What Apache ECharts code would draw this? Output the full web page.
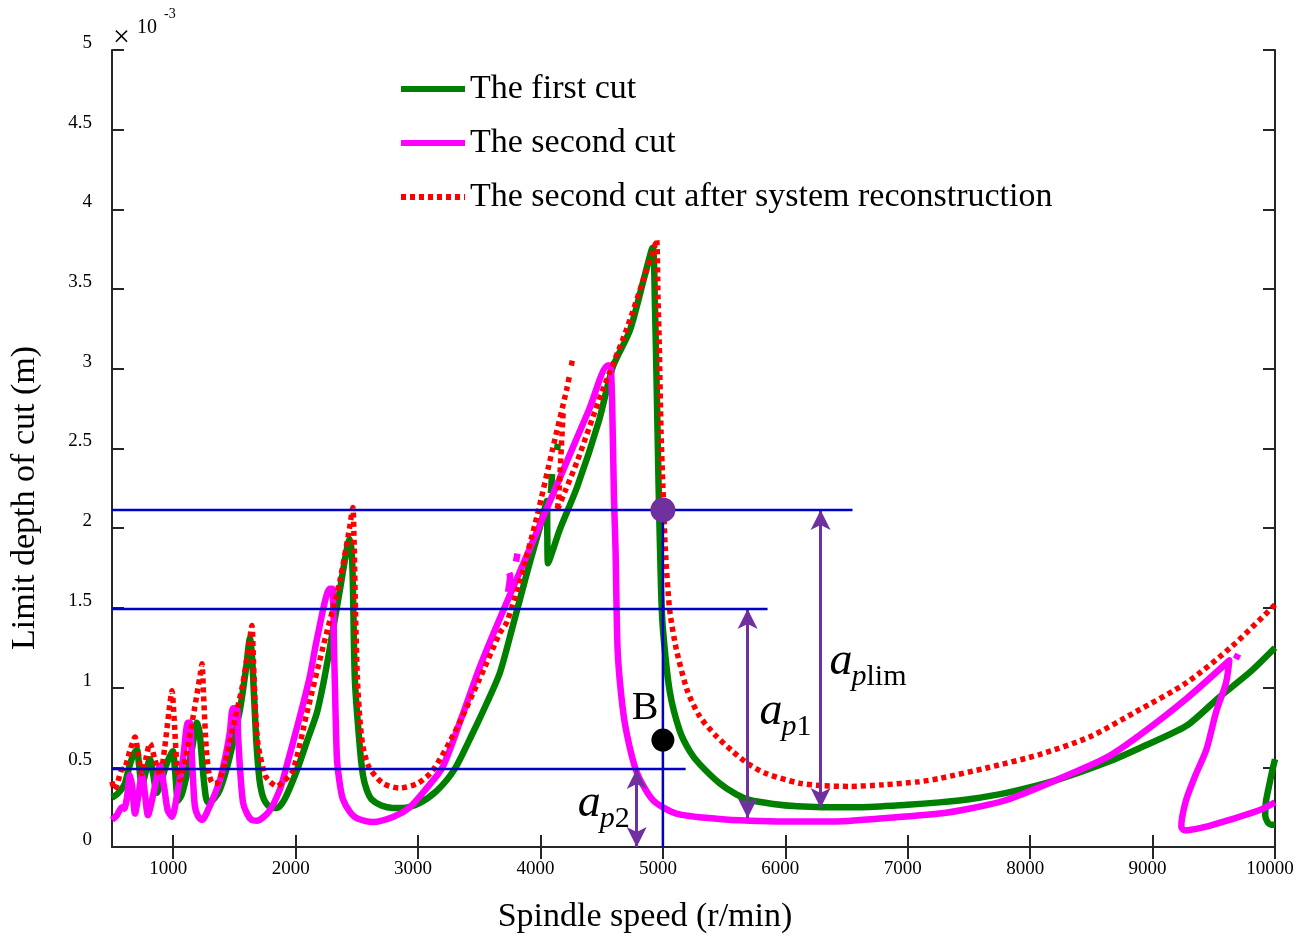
<!DOCTYPE html>
<html>
<head>
<meta charset="utf-8">
<title>Limit depth of cut vs spindle speed</title>
<script src="https://cdn.jsdelivr.net/npm/echarts@6.0.0/dist/echarts.min.js"></script>
<style>
  html, body { margin: 0; padding: 0; background: #fff; }
  #chart { width: 1305px; height: 939px; }
</style>
</head>
<body>
<div id="chart"></div>
<script>
// spindle speed (r/min), limit depth of cut (x10^-3 m); null rows break the curve
const firstCut = [
  [500,0.31],[540,0.33],[575,0.36],[606,0.40],[640,0.50],[675,0.58],[704,0.61],[720,0.52],[745,0.38],
  [775,0.47],[810,0.55],[835,0.46],[867,0.34],[905,0.42],[945,0.52],[980,0.58],[998,0.60],[1015,0.48],
  [1040,0.29],[1070,0.33],[1110,0.45],[1155,0.62],[1194,0.78],[1215,0.72],[1240,0.50],[1265,0.32],
  [1284,0.28],[1330,0.30],[1382,0.36],[1460,0.56],[1545,0.86],[1595,1.12],[1627,1.31],[1645,1.18],
  [1660,0.95],[1680,0.65],[1705,0.42],[1740,0.30],[1790,0.25],[1847,0.245],[1910,0.30],[2010,0.48],
  [2100,0.68],[2173,0.84],[2230,1.04],[2280,1.25],[2361,1.61],[2443,1.93],[2458,1.85],[2467,1.67],
  [2484,1.05],[2524,0.63],[2550,0.45],[2580,0.36],[2620,0.30],[2700,0.26],[2795,0.245],[2875,0.245],
  [3000,0.27],[3150,0.35],[3300,0.49],[3450,0.72],[3560,0.90],[3667,1.09],[3765,1.36],[3900,1.75],
  [4000,2.02],[4052,2.17],[4056,1.95],[4062,1.78],[4100,1.86],[4157,1.99],[4300,2.26],[4480,2.68],
  [4590,3.01],[4730,3.24],[4850,3.58],[4916,3.76],[4935,3.40],[4949,2.90],[4965,2.26],[4985,1.62],
  [5000,1.37],[5055,0.98],[5137,0.73],[5220,0.60],[5300,0.52],[5463,0.40],[5600,0.33],[5708,0.295],
  [5900,0.27],[6100,0.255],[6300,0.25],[6600,0.25],[6998,0.265],[7259,0.28],[7500,0.30],[7806,0.34],
  [8214,0.42],[8622,0.53],[8892,0.62],[9276,0.76],[9545,0.94],[9800,1.10],[10000,1.25],
  [10000,null],
  [10000,0.55],[9975,0.47],[9945,0.36],[9925,0.28],[9920,0.20],[9940,0.155],[9970,0.14],[10000,0.14],
  [10000,null],
  [4085,2.22],[4095,2.34],[4095,null],[4135,2.49],[4142,2.53]
];

const secondCut = [
  [500,0.17],[540,0.20],[582,0.25],[600,0.24],[620,0.30],[647,0.45],[665,0.38],[688,0.21],[715,0.32],
  [745,0.45],[765,0.36],[794,0.20],[840,0.34],[892,0.51],[925,0.38],[955,0.23],[990,0.19],[1030,0.32],
  [1080,0.55],[1120,0.78],[1137,0.78],[1150,0.60],[1165,0.38],[1178,0.25],[1205,0.19],[1235,0.17],
  [1300,0.26],[1382,0.42],[1430,0.58],[1463,0.72],[1488,0.87],[1520,0.87],[1530,0.70],[1545,0.50],
  [1570,0.28],[1602,0.21],[1640,0.17],[1684,0.165],[1780,0.22],[1871,0.36],[1920,0.49],[2035,0.82],
  [2116,1.07],[2173,1.30],[2280,1.62],[2300,1.62],[2315,1.20],[2337,0.56],[2360,0.40],[2386,0.30],
  [2443,0.22],[2500,0.18],[2630,0.157],[2800,0.19],[2933,0.25],[3050,0.35],[3200,0.50],[3350,0.80],
  [3500,1.12],[3627,1.36],[3800,1.67],[4000,2.03],[4200,2.39],[4400,2.75],[4549,3.02],[4570,3.02],
  [4585,2.80],[4600,2.20],[4613,1.87],[4630,1.24],[4660,0.95],[4700,0.73],[4786,0.47],[4918,0.295],
  [5110,0.21],[5463,0.176],[5708,0.165],[6000,0.16],[6386,0.16],[6800,0.18],[7259,0.21],[7500,0.24],
  [7806,0.295],[8214,0.42],[8622,0.56],[8892,0.70],[9276,0.93],[9627,1.17],[9600,1.03],[9520,0.85],
  [9439,0.61],[9350,0.45],[9276,0.30],[9240,0.18],[9235,0.125],[9260,0.105],[9300,0.107],[9450,0.13],
  [9627,0.17],[9871,0.23],[10000,0.28],
  [10000,null],
  [9680,1.18],[9700,1.21],[9700,null],
  [3735,1.60],[3752,1.70],[3745,1.72],[3745,null],
  [3800,1.79],[3812,1.84]
];

const reconCut = [
  [500,0.41],[520,0.36],[545,0.40],[575,0.48],[606,0.50],[645,0.60],[688,0.69],[715,0.58],[745,0.46],
  [775,0.55],[810,0.65],[850,0.55],[892,0.45],[930,0.62],[965,0.85],[990,0.98],[1008,0.80],[1030,0.52],
  [1055,0.42],[1100,0.55],[1170,0.85],[1220,1.08],[1235,1.15],[1248,0.95],[1270,0.62],[1295,0.45],
  [1324,0.40],[1357,0.40],[1420,0.52],[1488,0.75],[1570,1.03],[1620,1.28],[1643,1.39],[1655,1.18],
  [1672,0.85],[1690,0.66],[1708,0.58],[1750,0.45],[1790,0.41],[1847,0.38],[1900,0.41],[1978,0.48],
  [2092,0.84],[2222,1.25],[2361,1.67],[2440,2.00],[2467,2.13],[2478,1.90],[2490,1.45],[2505,1.05],
  [2525,0.80],[2550,0.63],[2600,0.50],[2712,0.40],[2851,0.37],[3000,0.40],[3120,0.48],[3300,0.72],
  [3500,1.05],[3667,1.34],[3725,1.41],[3850,1.72],[3970,2.07],[4100,2.50],[4214,2.87],[4240,2.97],
  [4240,null],
  [4252,3.02],[4262,3.06],
  [4262,null],
  [4185,2.72],[4170,2.50],[4160,2.35],[4148,2.18],[4135,2.11],[4200,2.23],[4300,2.42],[4500,2.85],
  [4700,3.24],[4850,3.58],[4930,3.76],[4949,3.81],[4960,3.45],[4970,3.16],[4985,2.60],[5000,2.26],
  [5020,1.87],[5055,1.49],[5110,1.24],[5200,0.98],[5300,0.82],[5430,0.70],[5570,0.60],[5700,0.52],
  [5847,0.46],[6116,0.40],[6300,0.385],[6524,0.38],[6800,0.39],[7096,0.41],[7259,0.43],[7667,0.50],
  [8076,0.58],[8484,0.69],[8867,0.85],[9276,1.03],[9650,1.26],[10000,1.52]
];

const seriesNames = ['The first cut', 'The second cut', 'The second cut after system reconstruction'];
const xTicks = [1000, 2000, 3000, 4000, 5000, 6000, 7000, 8000, 9000, 10000];

// reference depths drawn as blue lines, and the speed where they end
const refDepth = [2.114, 1.493, 0.489];
const refEndSpeed = [6549, 5855, 5186];
const chatterSpeed = 5000;

// double arrows: speed, lower depth, upper depth
const arrowSpeed = [4786, 5692, 6288];
const arrowLow = [0, 0.182, 0.245];
const arrowHigh = [0.489, 1.493, 2.114];

const limitPoint = [5000, 2.114];
const pointB = [5000, 0.671];

const FONT = '"Liberation Serif", "Times New Roman", serif';

const chart = echarts.init(document.getElementById('chart'));

const refSeries = refDepth.map((d, i) => ({
  type: 'line',
  data: [[500, d], [refEndSpeed[i], d]],
  symbol: 'none',
  lineStyle: { color: '#0000c8', width: 2.5 },
  z: 5,
  silent: true
}));
refSeries.push({
  type: 'line',
  data: [[chatterSpeed, 0], [chatterSpeed, refDepth[0]]],
  symbol: 'none',
  lineStyle: { color: '#0000c8', width: 2.5 },
  z: 5,
  silent: true
});

const option = {
  animation: false,
  backgroundColor: '#fff',
  grid: { left: 112, right: 30, top: 50, bottom: 92 },
  legend: {
    data: seriesNames,
    orient: 'vertical',
    left: 393,
    top: 67,
    itemWidth: 64,
    itemHeight: 14,
    itemGap: 20,
    selectedMode: false,
    itemStyle: { opacity: 0 },
    lineStyle: { width: 6 },
    textStyle: { fontFamily: FONT, fontSize: 34, color: '#000' }
  },
  xAxis: [
    {
      type: 'value', min: 500, max: 10000,
      axisLine: { lineStyle: { color: '#262626', width: 2 } },
      axisTick: { inside: true, length: 12, customValues: xTicks, lineStyle: { color: '#262626', width: 2 } },
      axisLabel: {
        customValues: xTicks, formatter: v => String(v),
        fontFamily: FONT, fontSize: 19, color: '#000', margin: 13, padding: [0, 10, 0, 0]
      },
      splitLine: { show: false }
    },
    {
      type: 'value', min: 500, max: 10000, position: 'top',
      axisLine: { lineStyle: { color: '#262626', width: 2 } },
      axisTick: { inside: true, length: 12, customValues: xTicks, lineStyle: { color: '#262626', width: 2 } },
      axisLabel: { show: false },
      splitLine: { show: false }
    }
  ],
  yAxis: [
    {
      type: 'value', min: 0, max: 5, interval: 0.5,
      axisLine: { show: true, lineStyle: { color: '#262626', width: 2 } },
      axisTick: { show: true, inside: true, length: 12, lineStyle: { color: '#262626', width: 2 } },
      axisLabel: {
        fontFamily: FONT, fontSize: 19, color: '#000', margin: 20,
        verticalAlign: 'bottom', lineHeight: 14
      },
      splitLine: { show: false }
    },
    {
      type: 'value', min: 0, max: 5, interval: 0.5, position: 'right',
      axisLine: { show: true, lineStyle: { color: '#262626', width: 2 } },
      axisTick: { show: true, inside: true, length: 12, lineStyle: { color: '#262626', width: 2 } },
      axisLabel: { show: false },
      splitLine: { show: false }
    }
  ],
  series: [
    {
      name: seriesNames[0], type: 'line', data: firstCut, symbol: 'none', connectNulls: false, smooth: 0.25,
      lineStyle: { color: '#008000', width: 6.5, join: 'round' }, itemStyle: { color: '#008000' }, z: 2
    },
    {
      name: seriesNames[1], type: 'line', data: secondCut, symbol: 'none', connectNulls: false, smooth: 0.25,
      lineStyle: { color: '#ff00ff', width: 6.5, join: 'round' }, itemStyle: { color: '#ff00ff' }, z: 3
    },
    {
      name: seriesNames[2], type: 'line', data: reconCut, symbol: 'none', connectNulls: false, smooth: 0.25,
      lineStyle: { color: '#ff0000', width: 5.5, type: [5, 4] }, itemStyle: { color: '#ff0000' }, z: 4
    },
    ...refSeries,
    {
      type: 'line', data: [], z: 6, silent: true,
      markLine: {
        silent: true,
        symbol: ['arrow', 'arrow'],
        symbolSize: [15, 20],
        label: { show: false },
        lineStyle: { color: '#7030a0', width: 3, type: 'solid' },
        data: arrowSpeed.map((s, i) => [{ coord: [s, arrowLow[i]] }, { coord: [s, arrowHigh[i]] }])
      }
    },
    {
      type: 'scatter', data: [limitPoint], symbolSize: 25, z: 7, silent: true,
      itemStyle: { color: '#7030a0', opacity: 1 }
    },
    {
      type: 'scatter', data: [pointB], symbolSize: 23, z: 7, silent: true,
      itemStyle: { color: '#000', opacity: 1 }
    }
  ],
  graphic: [
    { type: 'text', left: 113, top: 23, style: { text: '\u00d7', font: '30px ' + FONT, fill: '#000' } },
    { type: 'text', left: 137, top: 18, style: { text: '10', font: '20px ' + FONT, fill: '#000' } },
    { type: 'text', left: 164, top: 7, style: { text: '-3', font: '14px ' + FONT, fill: '#000' } },
    {
      type: 'text', x: 645, y: 917,
      style: { text: 'Spindle speed (r/min)', font: '34px ' + FONT, fill: '#000', align: 'center', verticalAlign: 'middle' }
    },
    {
      type: 'text', x: 25, y: 498, rotation: Math.PI / 2,
      style: { text: 'Limit depth of cut (m)', font: '34px ' + FONT, fill: '#000', align: 'center', verticalAlign: 'middle' }
    }
  ]
};

chart.setOption(option);

// annotation texts placed at data positions
const symbolLabels = [
  { at: [6361, 1.16], rest: 'lim' },
  { at: [5790, 0.847], rest: '1' },
  { at: [4304, 0.27], rest: '2' }
];
const labelB = [4745, 0.866];

const toPx = p => chart.convertToPixel({ xAxisIndex: 0, yAxisIndex: 0 }, p);
const extra = [];
symbolLabels.forEach(l => {
  const p = toPx(l.at);
  extra.push({
    type: 'text', x: p[0], y: p[1],
    style: { text: 'a', font: 'italic 46px ' + FONT, fill: '#000', verticalAlign: 'middle' }
  });
  extra.push({
    type: 'text', x: p[0] + 22, y: p[1] + 15,
    style: {
      text: '{i|p}{n|' + l.rest + '}', verticalAlign: 'middle', fill: '#000',
      rich: { i: { font: 'italic 30px ' + FONT }, n: { font: '30px ' + FONT } }
    }
  });
});
const pb = toPx(labelB);
extra.push({
  type: 'text', x: pb[0], y: pb[1],
  style: { text: 'B', font: '40px ' + FONT, fill: '#000', verticalAlign: 'middle' }
});

chart.setOption({ graphic: option.graphic.concat(extra) });
</script>
</body>
</html>
